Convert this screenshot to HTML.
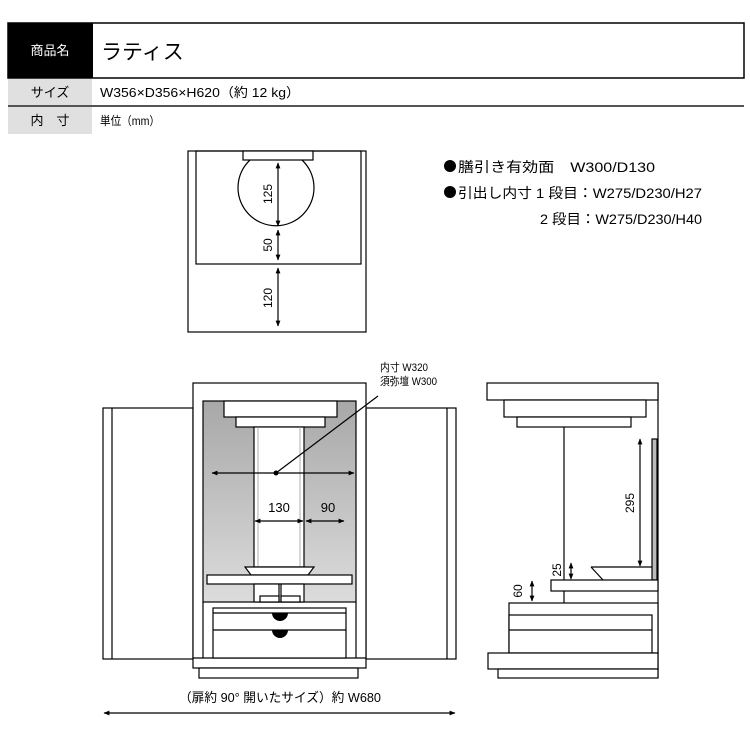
<!DOCTYPE html>
<html><head><meta charset="utf-8"><style>
html,body{margin:0;padding:0;background:#fff;}
svg{display:block;}
text{font-family:"Liberation Sans","Noto Sans CJK JP",sans-serif;}
</style></head><body>
<svg width="750" height="750" viewBox="0 0 750 750" xmlns="http://www.w3.org/2000/svg">
<defs>
<marker id="a" viewBox="0 0 10 10" refX="9" refY="5" markerWidth="5" markerHeight="5" orient="auto-start-reverse"><path d="M0,1 L10,5 L0,9 z" fill="#000"/></marker>
<linearGradient id="g" x1="0" y1="0" x2="0" y2="1"><stop offset="0" stop-color="#a8a8a8"/><stop offset="1" stop-color="#dcdcdc"/></linearGradient>
</defs>
<!-- header table -->
<rect x="8" y="23" width="736" height="55" fill="#fff" stroke="#000" stroke-width="1.5"/>
<rect x="8" y="23" width="85" height="55" fill="#000"/>
<text x="50" y="55" font-size="13" fill="#fff" text-anchor="middle">商品名</text>
<text x="101" y="59" font-size="21" fill="#000" font-family="Noto Sans CJK JP">ラティス</text>
<rect x="8" y="79" width="84" height="26" fill="#e0e0e0"/>
<rect x="8" y="105" width="736" height="2" fill="#555"/>
<rect x="8" y="107" width="84" height="27" fill="#e0e0e0"/>
<text x="50" y="97" font-size="13" text-anchor="middle">サイズ</text>
<text x="50" y="125" font-size="13" text-anchor="middle">内　寸</text>
<text x="100" y="97" font-size="13" textLength="200" lengthAdjust="spacingAndGlyphs">W356×D356×H620（約 12 kg）</text>
<text x="100" y="125" font-size="12" textLength="60" lengthAdjust="spacingAndGlyphs">単位（mm）</text>

<g fill="none" stroke="#000" stroke-width="1.2">
<!-- top diagram -->
<rect x="188" y="151" width="178" height="181"/>
<rect x="196" y="151" width="165" height="113"/>
<path d="M250,160 A38,38 0 1 0 302,160"/>
<rect x="243" y="151" width="70" height="9" fill="#fff"/>
<line x1="278" y1="163" x2="278" y2="226" marker-start="url(#a)" marker-end="url(#a)"/>
<line x1="278" y1="230" x2="278" y2="260" marker-start="url(#a)" marker-end="url(#a)"/>
<line x1="278" y1="268" x2="278" y2="326" marker-start="url(#a)" marker-end="url(#a)"/>
</g>
<g font-size="12">
<text transform="translate(272,194) rotate(-90)" text-anchor="middle">125</text>
<text transform="translate(272,245) rotate(-90)" text-anchor="middle">50</text>
<text transform="translate(272,298) rotate(-90)" text-anchor="middle">120</text>
</g>
<g font-size="14">
<circle cx="450" cy="166" r="6" fill="#000"/>
<text x="458" y="172" textLength="197" lengthAdjust="spacingAndGlyphs">膳引き有効面　W300/D130</text>
<circle cx="450" cy="192" r="6" fill="#000"/>
<text x="458" y="198" textLength="244" lengthAdjust="spacingAndGlyphs">引出し内寸 1 段目：W275/D230/H27</text>
<text x="540" y="224" textLength="162" lengthAdjust="spacingAndGlyphs">2 段目：W275/D230/H40</text>
</g>

<!-- front diagram -->
<g stroke="#000" stroke-width="1.2">
<rect x="103" y="408" width="90" height="251" fill="#fff"/>
<line x1="112" y1="408" x2="112" y2="659"/>
<rect x="366" y="408" width="90" height="251" fill="#fff"/>
<line x1="447" y1="408" x2="447" y2="659"/>
<rect x="193" y="383" width="173" height="285" fill="#fff"/>
<rect x="203" y="401" width="153" height="201" fill="url(#g)"/>
<line x1="203" y1="602" x2="203" y2="658"/>
<line x1="356" y1="602" x2="356" y2="658"/>
<line x1="193" y1="658" x2="366" y2="658"/>
<rect x="199" y="668" width="159" height="10" fill="#fff"/>
<rect x="224" y="401" width="113" height="16" fill="#fff"/>
<rect x="236" y="417" width="89" height="10" fill="#fff"/>
<rect x="254" y="427" width="50" height="140" fill="#fff"/>
<line x1="258" y1="427" x2="258" y2="567" stroke="#999" stroke-width="0.8"/>
<line x1="300" y1="427" x2="300" y2="567" stroke="#999" stroke-width="0.8"/>
<path d="M245,567 H314 L308,575 H251 Z" fill="#fff"/>
<rect x="207" y="575" width="145" height="9" fill="#fff"/>
<rect x="254" y="584" width="50" height="18" fill="#fff"/>
<line x1="279" y1="584" x2="279" y2="602"/>
<line x1="281" y1="584" x2="281" y2="602"/>
<rect x="260" y="596" width="19" height="6" fill="#fff"/>
<rect x="281" y="596" width="19" height="6" fill="#fff"/>
<rect x="213" y="608" width="133" height="50" fill="#fff"/>
<line x1="213" y1="613" x2="346" y2="613"/>
<line x1="213" y1="630" x2="346" y2="630"/>
</g>
<path d="M272,613 A8,8 0 0 0 288,613 Z" fill="#000"/>
<path d="M272,630 A8,8 0 0 0 288,630 Z" fill="#000"/>
<g stroke="#000" stroke-width="1.2" fill="none">
<line x1="212" y1="473" x2="354" y2="473" marker-start="url(#a)" marker-end="url(#a)"/>
<line x1="276" y1="473" x2="378" y2="396"/>
<line x1="255" y1="521" x2="303" y2="521" marker-start="url(#a)" marker-end="url(#a)"/>
<line x1="306" y1="521" x2="344" y2="521" marker-start="url(#a)" marker-end="url(#a)"/>
<line x1="104" y1="713" x2="455" y2="713" marker-start="url(#a)" marker-end="url(#a)"/>
</g>
<circle cx="276" cy="473" r="2.5" fill="#000"/>
<text x="279" y="512" font-size="13" text-anchor="middle">130</text>
<text x="328" y="512" font-size="13" text-anchor="middle">90</text>
<text x="380" y="371" font-size="11" textLength="48" lengthAdjust="spacingAndGlyphs">内寸 W320</text>
<text x="380" y="385" font-size="11" textLength="57" lengthAdjust="spacingAndGlyphs">須弥壇 W300</text>
<text x="280" y="702" font-size="13" text-anchor="middle" textLength="202" lengthAdjust="spacingAndGlyphs">（扉約 90° 開いたサイズ）約 W680</text>

<!-- side diagram -->
<g stroke="#000" stroke-width="1.2" fill="#fff">
<line x1="658" y1="383" x2="658" y2="678"/>
<rect x="487" y="383" width="171" height="17"/>
<rect x="504" y="400" width="142" height="17"/>
<rect x="517" y="417" width="114" height="10"/>
<line x1="564" y1="427" x2="564" y2="603"/>
<rect x="652" y="439" width="5" height="141" fill="#bbb"/>
<path d="M591,567 H652 M591,567 L603,580" fill="none"/>
<rect x="551" y="580" width="107" height="11"/>
<rect x="509" y="603" width="149" height="50"/>
<rect x="509" y="615" width="143" height="38"/>
<line x1="509" y1="630" x2="652" y2="630"/>
<rect x="488" y="653" width="170" height="16"/>
<rect x="498" y="669" width="160" height="9"/>
<g fill="none">
<line x1="640" y1="439" x2="640" y2="566" marker-start="url(#a)" marker-end="url(#a)"/>
<line x1="571" y1="563" x2="571" y2="579" marker-start="url(#a)" marker-end="url(#a)"/>
<line x1="532" y1="581" x2="532" y2="601" marker-start="url(#a)" marker-end="url(#a)"/>
</g>
</g>
<g font-size="12">
<text transform="translate(634,503) rotate(-90)" text-anchor="middle">295</text>
<text transform="translate(561,570) rotate(-90)" text-anchor="middle">25</text>
<text transform="translate(522,591) rotate(-90)" text-anchor="middle">60</text>
</g>
</svg>
</body></html>
